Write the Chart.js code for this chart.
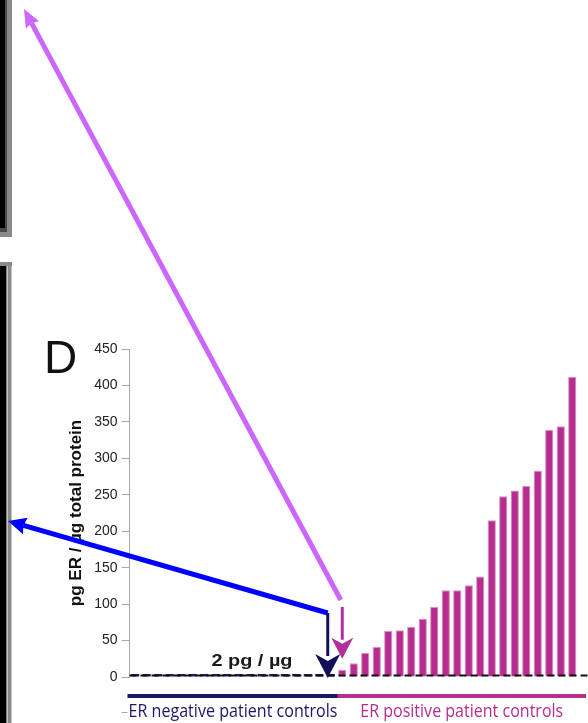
<!DOCTYPE html>
<html>
<head>
<meta charset="utf-8">
<title>ER per total protein</title>
<script src="https://cdn.jsdelivr.net/npm/chart.js@4.4.1/dist/chart.umd.min.js"></script>
<style>
  html, body { margin: 0; padding: 0; background: #fff; overflow: hidden; }
  #wrap { position: relative; width: 600px; height: 723px; }
</style>
</head>
<body>
<div id="wrap"><canvas id="myChart" width="600" height="723"></canvas></div>
<script>
// values (pg ER / ug total protein)
const erNegative = [4, 4, 4, 4, 4, 4, 4, 4, 4, 4, 4, 4, 4, 4, 4, 4, 4, 4];
const erPositive = [10, 19, 33, 41, 63, 64, 69, 80, 96, 119, 119, 126, 138, 215, 248, 256, 262, 283, 339, 344, 412];
const groupNames = ['ER negative patient controls', 'ER positive patient controls'];
const yMax = 450;
const yStep = 50;
const cutoff = 2;
const cutoffLabel = '2 pg / \u00b5g';
const yTitle = 'pg ER / \u00b5g total protein';
const panelLetter = 'D';

const navy = '#1b1868';
const magenta = '#b72d8f';

// one slot per patient, plus one empty slot where the axis runs on
const nSlots = erNegative.length + erPositive.length + 1;
const labels = [];
for (let i = 0; i < nSlots; i++) labels.push(String(i + 1));
const negData = labels.map((l, i) => i < erNegative.length ? erNegative[i] : null);
const posData = labels.map((l, i) => {
  const j = i - erNegative.length;
  return j >= 0 && j < erPositive.length ? erPositive[j] : null;
});

function arrow(ctx, x1, y1, x2, y2, color, lw, headLen, headW, notch) {
  const ang = Math.atan2(y2 - y1, x2 - x1);
  const ca = Math.cos(ang), sa = Math.sin(ang);
  const bx = x2 - ca * headLen, by = y2 - sa * headLen;
  ctx.save();
  ctx.strokeStyle = color;
  ctx.fillStyle = color;
  ctx.lineWidth = lw;
  ctx.lineCap = 'butt';
  ctx.beginPath();
  ctx.moveTo(x1, y1);
  ctx.lineTo(bx + ca * 2, by + sa * 2);
  ctx.stroke();
  const nx = -sa, ny = ca;
  const mx = bx + ca * notch, my = by + sa * notch;
  ctx.beginPath();
  ctx.moveTo(x2, y2);
  ctx.lineTo(bx + nx * headW / 2, by + ny * headW / 2);
  ctx.lineTo(mx, my);
  ctx.lineTo(bx - nx * headW / 2, by - ny * headW / 2);
  ctx.closePath();
  ctx.fill();
  ctx.restore();
}

function fitText(ctx, text, cx, y, width) {
  const w = ctx.measureText(text).width;
  ctx.save();
  ctx.translate(cx, y);
  ctx.scale(width / w, 1);
  ctx.textAlign = 'center';
  ctx.fillText(text, 0, 0);
  ctx.restore();
}

const decor = {
  id: 'decor',
  afterDraw(chart) {
    const ctx = chart.ctx;
    const xs = chart.scales.x, ys = chart.scales.y;
    const area = chart.chartArea;
    const slot = (area.right - area.left) / nSlots;
    const cx = i => xs.getPixelForValue(i);

    // side panels on the left
    ctx.save();
    ctx.fillStyle = '#000';
    ctx.fillRect(0, 0, 6, 228);
    ctx.fillStyle = '#4a4a4a';
    ctx.fillRect(5, 0, 2, 232);
    ctx.fillRect(0, 228, 7, 4);
    ctx.fillStyle = '#8a8a8a';
    ctx.fillRect(7, 0, 5, 237);
    ctx.fillRect(0, 232, 12, 5);
    ctx.fillRect(0, 262, 12, 4);
    ctx.fillStyle = '#000';
    ctx.fillRect(0, 266, 6.5, 457);
    ctx.fillStyle = '#8a8a8a';
    ctx.fillRect(7.5, 266, 4, 457);
    ctx.restore();

    // threshold line
    const yc = ys.getPixelForValue(cutoff);
    ctx.save();
    ctx.strokeStyle = '#111';
    ctx.lineWidth = 2;
    ctx.setLineDash([7, 4]);
    ctx.beginPath();
    ctx.moveTo(area.left, yc);
    ctx.lineTo(chart.width, yc);
    ctx.stroke();
    ctx.restore();

    // threshold label
    ctx.save();
    ctx.fillStyle = '#1a1a1a';
    ctx.font = 'bold 17px "Liberation Sans", Arial, sans-serif';
    fitText(ctx, cutoffLabel, 252, yc - 10, 81);
    ctx.restore();

    // small category tick at the lower left
    ctx.save();
    ctx.strokeStyle = '#a8a8a8';
    ctx.lineWidth = 1;
    ctx.beginPath();
    ctx.moveTo(area.left - 8, 712.5);
    ctx.lineTo(area.left - 2, 712.5);
    ctx.stroke();
    ctx.restore();

    // group bars and names under the axis
    const nNeg = erNegative.length;
    const groups = [
      {x0: cx(0) - slot / 2 - 2, x1: cx(nNeg - 1) + slot / 2 + 2, color: navy, name: groupNames[0], w: 209},
      {x0: cx(nNeg) - slot / 2 + 1, x1: chart.width - 14, color: magenta, name: groupNames[1], w: 203}
    ];
    groups.forEach(g => {
      ctx.save();
      ctx.fillStyle = g.color;
      ctx.fillRect(g.x0, 694, g.x1 - g.x0, 4);
      ctx.font = '18px "Open Sans", sans-serif';
      ctx.textBaseline = 'alphabetic';
      fitText(ctx, g.name, (g.x0 + g.x1) / 2, 717, g.w);
      ctx.restore();
    });

    // arrows
    const navyX = cx(nNeg - 1) - 3;
    const magX = cx(nNeg);
    arrow(ctx, navyX, 613, 8, 521, '#0000ff', 5, 18, 17, 2);
    arrow(ctx, magX - 1.5, 600, 24, 9, '#cc66ff', 5, 18, 15, 2);
    arrow(ctx, navyX, 613, navyX, ys.getPixelForValue(0) + 1, '#140f58', 3, 24, 25, 7);
    arrow(ctx, magX, 607, magX, ys.getPixelForValue(erPositive[0]) - 11, '#b2309b', 3, 21, 22, 6);

    // panel letter
    ctx.save();
    ctx.fillStyle = '#111';
    ctx.font = '46px "Liberation Sans Narrow", "Arial Narrow", sans-serif';
    ctx.textBaseline = 'alphabetic';
    ctx.fillText(panelLetter, 44, 373);
    ctx.restore();
  }
};

Chart.defaults.font.family = '"Liberation Sans", Arial, sans-serif';

const ctx = document.getElementById('myChart').getContext('2d');
const myChart = new Chart(ctx, {
  type: 'bar',
  data: {
    labels: labels,
    datasets: [{
      label: groupNames[0],
      data: negData,
      backgroundColor: navy,
      grouped: false,
      categoryPercentage: 1,
      barPercentage: 0.7
    }, {
      label: groupNames[1],
      data: posData,
      backgroundColor: magenta,
      borderColor: '#d98fc6',
      borderWidth: 1,
      grouped: false,
      categoryPercentage: 1,
      barPercentage: 0.72
    }]
  },
  options: {
    responsive: false,
    animation: false,
    layout: { padding: { left: 0, top: 349, right: 10.5, bottom: 46 } },
    plugins: { legend: { display: false }, tooltip: { enabled: false } },
    scales: {
      x: { display: false },
      y: {
        min: 0,
        max: yMax,
        ticks: { stepSize: yStep, color: '#222', font: { size: 14 }, padding: 4 },
        grid: { drawOnChartArea: false, tickLength: 8, color: '#a8a8a8' },
        border: { color: '#a8a8a8' },
        title: {
          display: true,
          text: yTitle,
          color: '#111',
          font: { size: 17, weight: 'bold' },
          padding: { top: 66 }
        },
        afterFit: scale => { scale.width = 129.5; }
      }
    }
  },
  plugins: [decor]
});
</script>
</body>
</html>
